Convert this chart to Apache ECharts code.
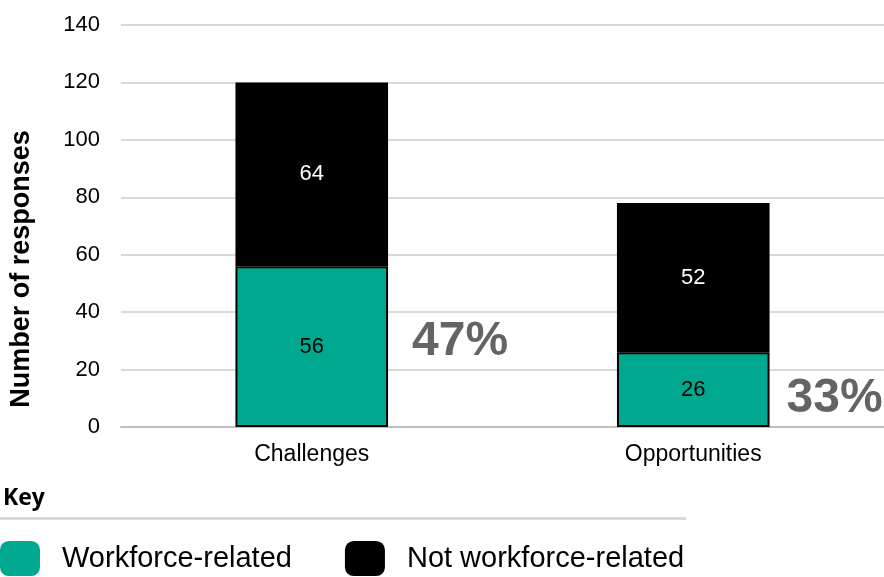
<!DOCTYPE html>
<html>
<head>
<meta charset="utf-8">
<script src="https://cdn.jsdelivr.net/npm/echarts@6/dist/echarts.min.js"></script>
<style>
  html, body { margin: 0; padding: 0; background: #fff; }
  #chart { width: 884px; height: 577px; }
</style>
</head>
<body>
<div id="chart"></div>
<script>
// Survey responses split by whether they relate to the workforce
const categories = ['Challenges', 'Opportunities'];
const workforceRelated = [56, 26];
const notWorkforceRelated = [64, 52];
const yTicks = { min: 0, max: 140, interval: 20 };

const FONT = '"Liberation Sans", Arial, sans-serif';
const TEAL = '#00a88f';

// Share of workforce-related responses in each category
const shareLabels = workforceRelated.map((w, i) =>
  Math.round(w / (w + notWorkforceRelated[i]) * 100) + '%');
const shareOffsets = [[24, -5], [17, 9]];

const chart = echarts.init(document.getElementById('chart'), null, { renderer: 'canvas' });

chart.setOption({
  animation: false,
  textStyle: { fontFamily: FONT },
  grid: { left: 121, right: -1, top: 25, bottom: 150, containLabel: false },
  xAxis: {
    type: 'category',
    data: categories,
    axisLine: { show: true, lineStyle: { color: '#bfbfbf', width: 2 } },
    axisTick: { show: false },
    axisLabel: { color: '#000', fontSize: 23, margin: 16, fontFamily: FONT }
  },
  yAxis: {
    type: 'value',
    min: yTicks.min,
    max: yTicks.max,
    interval: yTicks.interval,
    axisLine: { show: false },
    axisTick: { show: false },
    axisLabel: { color: '#000', fontSize: 22, margin: 21, fontFamily: FONT },
    splitLine: { lineStyle: { color: '#d9d9d9', width: 2 } }
  },
  legend: {
    left: 0,
    top: 541,
    padding: 0,
    data: ['Workforce-related', 'Not workforce-related'],
    icon: 'roundRect',
    itemWidth: 40,
    itemHeight: 35,
    itemGap: 53,
    itemStyle: { borderWidth: 0 },
    textStyle: { color: '#000', fontSize: 29, fontFamily: FONT, padding: [0, 0, 0, 17] }
  },
  graphic: [
    {
      type: 'text',
      left: 3,
      top: 487,
      style: { text: 'Key', font: 'bold 23px "Open Sans", sans-serif', fill: '#000' }
    },
    {
      type: 'rect',
      shape: { x: 0, y: 517, width: 686, height: 3 },
      style: { fill: '#d9d9d9' }
    },
    {
      type: 'text',
      x: 22,
      y: 269,
      rotation: Math.PI / 2,
      style: {
        text: 'Number of responses',
        font: 'bold 27px ' + FONT,
        fill: '#000',
        align: 'center',
        verticalAlign: 'middle'
      }
    }
  ],
  series: [
    {
      name: 'Workforce-related',
      type: 'bar',
      stack: 'total',
      barWidth: '40%',
      barGap: '-100%',
      data: workforceRelated,
      itemStyle: { color: TEAL, borderColor: '#000', borderWidth: 2 },
      label: { show: true, position: 'inside', color: '#000', fontSize: 22, fontFamily: FONT }
    },
    {
      name: 'Not workforce-related',
      type: 'bar',
      stack: 'total',
      barWidth: '40%',
      barGap: '-100%',
      data: notWorkforceRelated,
      itemStyle: { color: '#000', borderColor: '#000', borderWidth: 2 },
      label: { show: true, position: 'inside', color: '#fff', fontSize: 22, fontFamily: FONT }
    },
    {
      // transparent overlay on the workforce segment that carries the share label
      name: 'share',
      type: 'bar',
      barWidth: '40%',
      barGap: '-100%',
      silent: true,
      z: 5,
      itemStyle: { color: 'rgba(0,0,0,0)' },
      data: workforceRelated.map((v, i) => ({
        value: v,
        label: {
          show: true,
          position: 'right',
          distance: 0,
          offset: shareOffsets[i],
          formatter: shareLabels[i],
          color: '#646464',
          fontSize: 48,
          fontWeight: 'bold',
          fontFamily: FONT
        }
      }))
    }
  ]
});
</script>
</body>
</html>
